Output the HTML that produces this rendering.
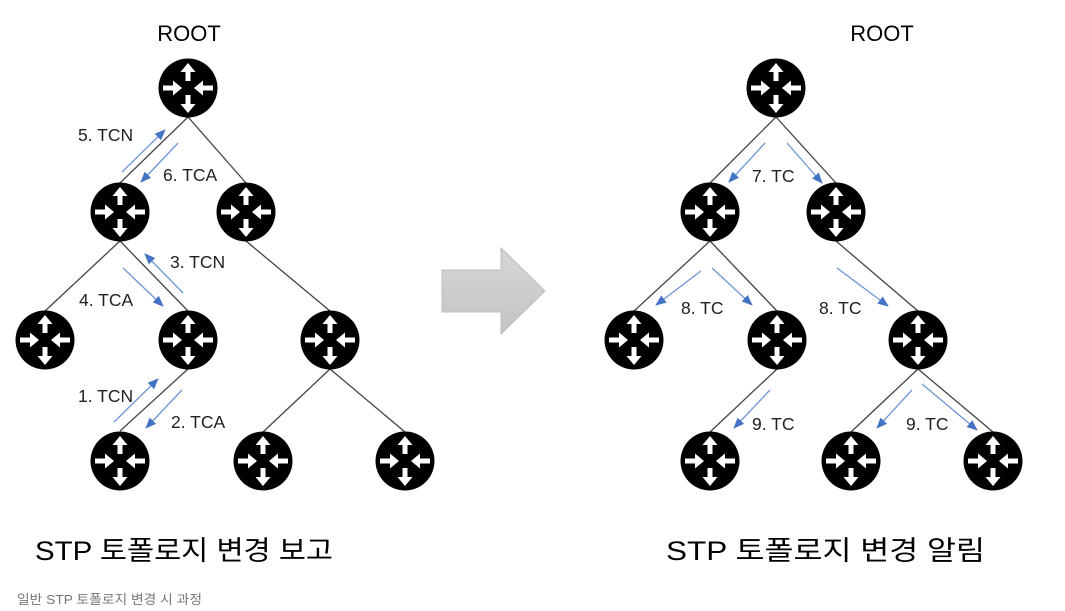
<!DOCTYPE html>
<html><head><meta charset="utf-8"><style>
body{margin:0;background:#fff;}
svg{display:block}
text{font-family:"Liberation Sans","Noto Sans CJK KR",sans-serif;}
</style></head><body>
<svg width="1065" height="611" viewBox="0 0 1065 611" xmlns="http://www.w3.org/2000/svg">
<defs>
<g id="r">
<circle r="29.5" fill="#000"/>
<g fill="#fff">
<path d="M0,-25 L-7.5,-16 L-2.5,-16 L-2.5,-7 L2.5,-7 L2.5,-16 L7.5,-16 Z"/>
<path d="M0,25 L-7.5,16 L-2.5,16 L-2.5,7 L2.5,7 L2.5,16 L7.5,16 Z"/>
<path d="M-6,0 L-15,-7.5 L-15,-2.5 L-25,-2.5 L-25,2.5 L-15,2.5 L-15,7.5 Z"/>
<path d="M6,0 L15,-7.5 L15,-2.5 L25,-2.5 L25,2.5 L15,2.5 L15,7.5 Z"/>
</g>
</g>
<marker id="a" markerWidth="11" markerHeight="9" refX="10" refY="4.5" orient="auto" markerUnits="userSpaceOnUse">
<path d="M0,0 L11,4.5 L0,9 Z" fill="#4472c4"/>
</marker>
<linearGradient id="g" x1="0" y1="0" x2="0" y2="1">
<stop offset="0" stop-color="#d6d6d6"/><stop offset="1" stop-color="#c4c4c4"/>
</linearGradient>
</defs>

<g stroke="#444" stroke-width="1.3" fill="none">
<line x1="188" y1="117" x2="120" y2="183"/>
<line x1="188" y1="117" x2="246" y2="183"/>
<line x1="120" y1="241" x2="45" y2="311"/>
<line x1="120" y1="241" x2="188" y2="311"/>
<line x1="246" y1="241" x2="330" y2="311"/>
<line x1="188" y1="369" x2="120" y2="431"/>
<line x1="330" y1="369" x2="263" y2="432"/>
<line x1="330" y1="369" x2="405" y2="432"/>
<line x1="776" y1="117" x2="710" y2="183"/>
<line x1="776" y1="117" x2="836" y2="183"/>
<line x1="710" y1="241" x2="634" y2="311"/>
<line x1="710" y1="241" x2="777" y2="311"/>
<line x1="836" y1="241" x2="918" y2="311"/>
<line x1="777" y1="369" x2="710" y2="432"/>
<line x1="918" y1="369" x2="851" y2="432"/>
<line x1="918" y1="369" x2="993" y2="432"/>
</g>

<g>
<use href="#r" x="188" y="88"/><use href="#r" x="120" y="212"/><use href="#r" x="246" y="212"/>
<use href="#r" x="45" y="340"/><use href="#r" x="188" y="340"/><use href="#r" x="330" y="340"/>
<use href="#r" x="120" y="461"/><use href="#r" x="263" y="461"/><use href="#r" x="405" y="461"/>
<use href="#r" x="776" y="88"/><use href="#r" x="710" y="212"/><use href="#r" x="836" y="212"/>
<use href="#r" x="634" y="340"/><use href="#r" x="777" y="340"/><use href="#r" x="918" y="340"/>
<use href="#r" x="710" y="461"/><use href="#r" x="851" y="461"/><use href="#r" x="993" y="461"/>
</g>

<g stroke="#6f95d6" stroke-width="1.3" marker-end="url(#a)">
<line x1="122" y1="172" x2="165" y2="130"/>
<line x1="178" y1="143" x2="141" y2="182"/>
<line x1="183" y1="293" x2="145" y2="254"/>
<line x1="123" y1="268" x2="163" y2="306"/>
<line x1="114" y1="422" x2="158" y2="379"/>
<line x1="182" y1="390" x2="146" y2="428"/>
<line x1="765" y1="143" x2="729" y2="182"/>
<line x1="787" y1="143" x2="822" y2="183"/>
<line x1="701" y1="271" x2="656" y2="305"/>
<line x1="712" y1="268" x2="752" y2="305"/>
<line x1="837" y1="268" x2="888" y2="306"/>
<line x1="770" y1="390" x2="734" y2="428"/>
<line x1="912" y1="390" x2="877" y2="428"/>
<line x1="922" y1="384" x2="977" y2="430"/>
</g>

<g font-size="17.5" fill="#222">
<text x="78" y="141">5. TCN</text>
<text x="163" y="181">6. TCA</text>
<text x="170" y="268">3. TCN</text>
<text x="79" y="306">4. TCA</text>
<text x="78" y="402">1. TCN</text>
<text x="171" y="428">2. TCA</text>
<text x="752" y="182">7. TC</text>
<text x="681" y="314">8. TC</text>
<text x="819" y="314">8. TC</text>
<text x="752" y="430">9. TC</text>
<text x="906" y="430">9. TC</text>
</g>
<g font-size="22" fill="#000" text-anchor="middle">
<text x="189" y="41">ROOT</text>
<text x="882" y="41">ROOT</text>
</g>

<path d="M442,270 L501,270 L501,248 L545,291 L501,334 L501,312 L442,312 Z" fill="url(#g)" stroke="#bdbdbd" stroke-width="1"/>

<text x="35" y="560" font-size="27" fill="#000" textLength="298" lengthAdjust="spacingAndGlyphs">STP 토폴로지 변경 보고</text>
<text x="666" y="560" font-size="27" fill="#000" textLength="319" lengthAdjust="spacingAndGlyphs">STP 토폴로지 변경 알림</text>
<text x="17" y="604" font-size="13" fill="#777" textLength="185" lengthAdjust="spacingAndGlyphs">일반 STP 토폴로지 변경 시 과정</text>
</svg>
</body></html>
